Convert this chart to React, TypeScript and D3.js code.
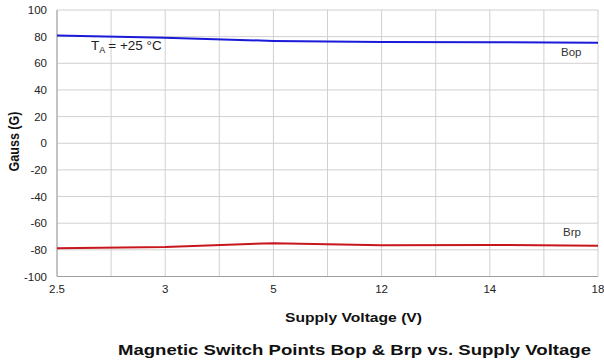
import React from "react";
import * as d3 from "d3";

const xLabels = ["2.5", "", "3", "", "5", "", "12", "", "14", "", "18"];
const voltages = ["2.5", "3", "5", "12", "14", "18"];
const bop = [80.8, 79.2, 76.8, 76.0, 75.8, 75.5];
const brp = [-78.8, -77.8, -75.0, -76.6, -76.3, -77.0];
const yTicks = [100, 80, 60, 40, 20, 0, -20, -40, -60, -80, -100];

const W = 604, H = 362;
const L = 57, R = 598, T = 10, B = 276.5;

export default function App() {
  const x = d3.scaleLinear().domain([0, xLabels.length - 1]).range([L, R]);
  const y = d3.scaleLinear().domain([-100, 100]).range([B, T]);
  const idx = (v: string) => xLabels.indexOf(v);
  const line = d3.line<number>().x((_, i) => x(idx(voltages[i]))).y(d => y(d));
  const font = "Arial, 'Liberation Sans', sans-serif";
  return (
    <svg width={W} height={H} style={{ position: "absolute", left: 0, top: 0, background: "#fff" }} fontFamily={font}>
      {xLabels.map((_, i) => (
        <line key={"gx" + i} x1={x(i)} x2={x(i)} y1={T} y2={B} stroke="#d0d0d0" strokeWidth={1} />
      ))}
      {yTicks.map(t => (
        <line key={"gy" + t} x1={L} x2={R} y1={y(t)} y2={y(t)} stroke="#d0d0d0" strokeWidth={1} />
      ))}
      <line x1={L} x2={L} y1={T} y2={B} stroke="#a0a0a0" strokeWidth={1} />
      <line x1={L} x2={R} y1={B} y2={B} stroke="#a0a0a0" strokeWidth={1} />
      {yTicks.map(t => (
        <text key={"ty" + t} x={47} y={y(t) + 4} textAnchor="end" fontSize={11.5} fill="#222">{t}</text>
      ))}
      {xLabels.map((l, i) => l ? (
        <text key={"tx" + i} x={x(i)} y={293} textAnchor="middle" fontSize={11.5} fill="#222">{l}</text>
      ) : null)}
      <path d={line(bop) || ""} fill="none" stroke="#1a1ad8" strokeWidth={2} />
      <path d={line(brp) || ""} fill="none" stroke="#c8161d" strokeWidth={2} />
      <text x={91} y={50} fontSize={13.5} fill="#222">T<tspan fontSize={9} dy={3}>A</tspan><tspan dy={-3} dx={3}>= +25 °C</tspan></text>
      <text x={561} y={56} fontSize={11.5} fill="#333">Bop</text>
      <text x={563} y={236} fontSize={11.5} fill="#333">Brp</text>
      <text transform={`translate(18.5,141.5) rotate(-90)`} textAnchor="middle" fontSize={14} fontWeight="bold" fill="#111" textLength={60} lengthAdjust="spacingAndGlyphs">Gauss (G)</text>
      <text x={285} y={322} fontSize={13} fontWeight="bold" fill="#111" textLength={137} lengthAdjust="spacingAndGlyphs">Supply Voltage (V)</text>
      <text x={118} y={355} fontSize={15} fontWeight="bold" fill="#111" textLength={473} lengthAdjust="spacingAndGlyphs">Magnetic Switch Points Bop &amp; Brp vs. Supply Voltage</text>
    </svg>
  );
}
